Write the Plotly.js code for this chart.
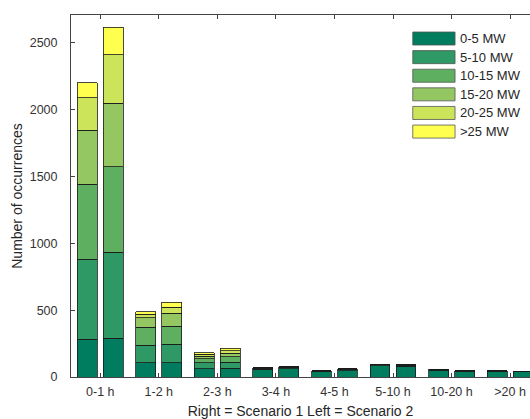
<!DOCTYPE html>
<html>
<head>
<meta charset="utf-8">
<script src="https://cdn.plot.ly/plotly-3.0.1.min.js"></script>
<style>html,body{margin:0;padding:0;background:#fff;}#chart{width:530px;height:419px;}</style>
</head>
<body>
<div id="chart"></div>
<script>
// Duration categories
var categories = ['0-1 h', '1-2 h', '2-3 h', '3-4 h', '4-5 h', '5-10 h', '10-20 h', '>20 h'];
// Power classes (stack order, bottom to top)
var seriesNames = ['0-5 MW', '5-10 MW', '10-15 MW', '15-20 MW', '20-25 MW', '>25 MW'];
var seriesColors = ['#007c5e', '#2f9966', '#5eb060', '#94c762', '#cbe45a', '#ffff50'];

// Scenario 2 (left bars): one array per power class, values per duration category
var scen2_0_5   = [282, 105, 60, 57, 42, 86, 52, 44];
var scen2_5_10  = [598, 133, 45,  9,  4,  7,  4,  3];
var scen2_10_15 = [563, 134, 30,  3,  1,  2,  1,  0];
var scen2_15_20 = [402,  70, 20,  1,  0,  0,  0,  0];
var scen2_20_25 = [245,  28, 15,  0,  0,  0,  0,  0];
var scen2_gt25  = [110,  19, 10,  0,  0,  0,  0,  0];

// Scenario 1 (right bars)
var scen1_0_5   = [289, 105, 65, 60, 48, 80, 44, 40];
var scen1_5_10  = [644, 139, 45, 12,  9,  8,  3,  3];
var scen1_10_15 = [638, 136, 42,  3,  3,  2,  0,  0];
var scen1_15_20 = [476,  96, 25,  1,  1,  0,  0,  0];
var scen1_20_25 = [361,  46, 20,  0,  0,  0,  0,  0];
var scen1_gt25  = [207,  38, 18,  0,  0,  0,  0,  0];

var scenario2 = [scen2_0_5, scen2_5_10, scen2_10_15, scen2_15_20, scen2_20_25, scen2_gt25];
var scenario1 = [scen1_0_5, scen1_5_10, scen1_10_15, scen1_15_20, scen1_20_25, scen1_gt25];

var barOffset = 0.222, barWidth = 0.34;
var traces = [];
function addScenario(data, offset, label) {
  data.forEach(function (vals, i) {
    traces.push({
      type: 'bar',
      name: seriesNames[i] + ' (' + label + ')',
      x: categories.map(function (c, j) { return j + offset; }),
      y: vals,
      width: barWidth,
      marker: { color: seriesColors[i], line: { color: '#1a1a1a', width: 0.8 } },
      showlegend: false
    });
  });
}
addScenario(scenario2, -barOffset, 'Scenario 2');
addScenario(scenario1, barOffset, 'Scenario 1');

// Custom legend (wide swatches as in the original)
var shapes = [], annotations = [];
var legX0 = 0.7446, legX1 = 0.8367, legTextX = 0.843;
var legY0 = 0.9350, legStep = 0.0514, swatchH = 0.036;
seriesNames.forEach(function (n, i) {
  var yc = legY0 - i * legStep;
  shapes.push({ type: 'rect', xref: 'paper', yref: 'paper', x0: legX0, x1: legX1,
    y0: yc - swatchH / 2, y1: yc + swatchH / 2,
    fillcolor: seriesColors[i], line: { color: '#555', width: 0.8 } });
  annotations.push({ xref: 'paper', yref: 'paper', x: legTextX, y: yc, xanchor: 'left', yanchor: 'middle',
    text: n, showarrow: false, font: { family: 'Liberation Sans, Arial, sans-serif', size: 13, color: '#262626' } });
});

var layout = {
  width: 530, height: 419,
  margin: { l: 71, r: 0, t: 15, b: 42 },
  paper_bgcolor: '#fff', plot_bgcolor: '#fff',
  barmode: 'stack',
  showlegend: false,
  font: { family: 'Liberation Sans, Arial, sans-serif', size: 12, color: '#333' },
  xaxis: {
    range: [-0.5, 7.34],
    tickmode: 'array',
    tickvals: categories.map(function (c, j) { return j; }),
    ticktext: categories,
    ticks: 'inside', ticklen: 4, tickcolor: '#444', tickwidth: 1,
    showline: true, linecolor: '#444', linewidth: 1, mirror: 'ticks',
    showgrid: false, zeroline: false,
    ticklabelstandoff: 3,
    tickfont: { size: 12.5, color: '#333' },
    title: { text: 'Right = Scenario 1 Left = Scenario 2', font: { size: 14, color: '#262626' }, standoff: 9 }
  },
  yaxis: {
    range: [0, 2707],
    tickvals: [0, 500, 1000, 1500, 2000, 2500],
    ticks: 'inside', ticklen: 4, tickcolor: '#444', tickwidth: 1,
    showline: true, linecolor: '#444', linewidth: 1,
    showgrid: false, zeroline: false,
    ticklabelstandoff: 10,
    tickfont: { size: 12.5, color: '#333' },
    title: { text: 'Number of occurrences', font: { size: 14, color: '#262626' }, standoff: 3 }
  },
  shapes: shapes,
  annotations: annotations
};

Plotly.newPlot('chart', traces, layout, { displayModeBar: false, staticPlot: true });
</script>
</body>
</html>
